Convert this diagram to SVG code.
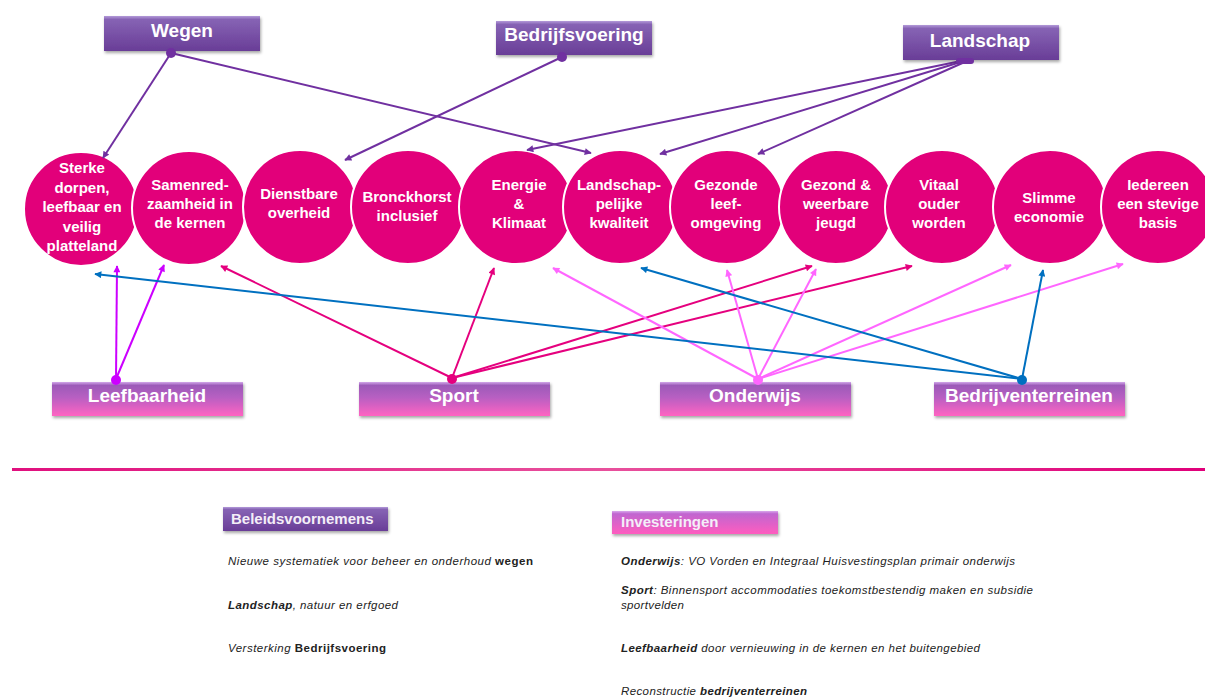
<svg xmlns="http://www.w3.org/2000/svg" width="1205" height="698" viewBox="0 0 1205 698">
<defs>
<linearGradient id="gTop" x1="0" y1="0" x2="0" y2="1">
<stop offset="0" stop-color="#b39ad9"/><stop offset="0.1" stop-color="#8663b4"/><stop offset="1" stop-color="#693d97"/>
</linearGradient>
<linearGradient id="gBot" x1="0" y1="0" x2="0" y2="1">
<stop offset="0" stop-color="#d2a8ea"/><stop offset="0.1" stop-color="#9c5ab8"/><stop offset="0.45" stop-color="#b75fc2"/><stop offset="1" stop-color="#ff64c2"/>
</linearGradient>
<linearGradient id="gInv" x1="0" y1="0" x2="0" y2="1">
<stop offset="0" stop-color="#d8a8ec"/><stop offset="0.12" stop-color="#c066d0"/><stop offset="1" stop-color="#ff5cbf"/>
</linearGradient>
<linearGradient id="gLine" x1="0" y1="0" x2="1" y2="0">
<stop offset="0" stop-color="#e0107e"/><stop offset="0.5" stop-color="#e8509c"/><stop offset="1" stop-color="#e0007a"/>
</linearGradient>
<filter id="sh" x="-10%" y="-20%" width="120%" height="160%">
<feDropShadow dx="1" dy="2" stdDeviation="1.5" flood-color="#000" flood-opacity="0.35"/>
</filter>
<marker id="aP" viewBox="0 0 10 10" refX="9" refY="5" markerWidth="9" markerHeight="7" markerUnits="userSpaceOnUse" orient="auto"><path d="M0,0 L10,5 L0,10 z" fill="#7030a0"/></marker>
<marker id="aL" viewBox="0 0 10 10" refX="9" refY="5" markerWidth="9" markerHeight="7" markerUnits="userSpaceOnUse" orient="auto"><path d="M0,0 L10,5 L0,10 z" fill="#cc00ff"/></marker>
<marker id="aS" viewBox="0 0 10 10" refX="9" refY="5" markerWidth="9" markerHeight="7" markerUnits="userSpaceOnUse" orient="auto"><path d="M0,0 L10,5 L0,10 z" fill="#e5007e"/></marker>
<marker id="aO" viewBox="0 0 10 10" refX="9" refY="5" markerWidth="9" markerHeight="7" markerUnits="userSpaceOnUse" orient="auto"><path d="M0,0 L10,5 L0,10 z" fill="#ff66ff"/></marker>
<marker id="aB" viewBox="0 0 10 10" refX="9" refY="5" markerWidth="9" markerHeight="7" markerUnits="userSpaceOnUse" orient="auto"><path d="M0,0 L10,5 L0,10 z" fill="#0070c0"/></marker>
</defs>
<style>
.c{fill:#e2007a;stroke:#fff;stroke-width:2}
.ct{font-family:"Liberation Sans",Arial,sans-serif;font-weight:bold;font-size:15px;fill:#fff;text-anchor:middle}
.bt{font-family:"Liberation Sans",Arial,sans-serif;font-weight:bold;font-size:19px;fill:#fff;text-anchor:middle}
.lt{font-family:"Liberation Sans",Arial,sans-serif;font-weight:bold;font-size:15px;fill:#f4eef8}
.tb{fill:url(#gTop);filter:url(#sh)}
.bb{fill:url(#gBot);filter:url(#sh)}
.tx{font-family:"Liberation Sans",Arial,sans-serif;font-style:italic;font-size:11.5px;fill:#222}
.k{font-weight:bold}
.p{fill:none;stroke:#7030a0;stroke-width:2;marker-end:url(#aP)}
.l{fill:none;stroke:#cc00ff;stroke-width:2;marker-end:url(#aL)}
.s{fill:none;stroke:#e5007e;stroke-width:2;marker-end:url(#aS)}
.o{fill:none;stroke:#ff66ff;stroke-width:2;marker-end:url(#aO)}
.b{fill:none;stroke:#0070c0;stroke-width:2;marker-end:url(#aB)}
</style>
<rect width="1205" height="698" fill="#fff"/>

<g id="circles">
<g id="n-sterke"><circle class="c" cx="81" cy="209" r="57"/><text class="ct" x="82"><tspan x="82" y="173">Sterke</tspan><tspan x="82" y="192.5">dorpen,</tspan><tspan x="82" y="212">leefbaar en</tspan><tspan x="82" y="231.5">veilig</tspan><tspan x="82" y="251">platteland</tspan></text></g>
<g id="n-samenred"><circle class="c" cx="189" cy="208" r="57"/><text class="ct"><tspan x="190" y="190">Samenred-</tspan><tspan x="190" y="209">zaamheid in</tspan><tspan x="190" y="228">de kernen</tspan></text></g>
<g id="n-dienstbare"><circle class="c" cx="300" cy="207" r="57"/><text class="ct"><tspan x="299" y="199">Dienstbare</tspan><tspan x="299" y="218">overheid</tspan></text></g>
<g id="n-bronckhorst"><circle class="c" cx="408" cy="207" r="57"/><text class="ct"><tspan x="407" y="202">Bronckhorst</tspan><tspan x="407" y="221">inclusief</tspan></text></g>
<g id="n-energie"><circle class="c" cx="516" cy="207" r="57"/><text class="ct"><tspan x="519" y="190">Energie</tspan><tspan x="519" y="209">&amp;</tspan><tspan x="519" y="228">Klimaat</tspan></text></g>
<g id="n-landschappelijk"><circle class="c" cx="620" cy="207" r="57"/><text class="ct"><tspan x="619" y="190">Landschap-</tspan><tspan x="619" y="209">pelijke</tspan><tspan x="619" y="228">kwaliteit</tspan></text></g>
<g id="n-gezonde"><circle class="c" cx="727" cy="207" r="57"/><text class="ct"><tspan x="726" y="190">Gezonde</tspan><tspan x="726" y="209">leef-</tspan><tspan x="726" y="228">omgeving</tspan></text></g>
<g id="n-jeugd"><circle class="c" cx="836" cy="207" r="57"/><text class="ct"><tspan x="836" y="190">Gezond &amp;</tspan><tspan x="836" y="209">weerbare</tspan><tspan x="836" y="228">jeugd</tspan></text></g>
<g id="n-vitaal"><circle class="c" cx="942" cy="207" r="57"/><text class="ct"><tspan x="939" y="190">Vitaal</tspan><tspan x="939" y="209">ouder</tspan><tspan x="939" y="228">worden</tspan></text></g>
<g id="n-slimme"><circle class="c" cx="1050" cy="207" r="57"/><text class="ct"><tspan x="1049" y="203">Slimme</tspan><tspan x="1049" y="222">economie</tspan></text></g>
<g id="n-iedereen"><circle class="c" cx="1158" cy="207" r="57"/><text class="ct"><tspan x="1158" y="190">Iedereen</tspan><tspan x="1158" y="209">een stevige</tspan><tspan x="1158" y="228">basis</tspan></text></g>
</g>

<g id="connectors">
<path class="p" d="M171,53 L103,158"/>
<path class="p" d="M171,53 L591,153"/>
<path class="p" d="M562,57 L345,160"/>
<path class="p" d="M961,61 L527,150"/>
<path class="p" d="M964,61 L660,154"/>
<path class="p" d="M967,61 L758,154"/>
<path class="l" d="M116,379 L117,266"/>
<path class="l" d="M116,379 L164,265"/>
<path class="s" d="M452,378 L221,266"/>
<path class="s" d="M452,378 L494,268"/>
<path class="s" d="M452,378 L812,266"/>
<path class="s" d="M452,378 L912,266"/>
<path class="o" d="M758,379 L553,268"/>
<path class="o" d="M758,379 L727,270"/>
<path class="o" d="M758,379 L816,269"/>
<path class="o" d="M758,379 L1011,265"/>
<path class="o" d="M758,379 L1123,264"/>
<path class="b" d="M1022,379 L95,274"/>
<path class="b" d="M1022,379 L641,268"/>
<path class="b" d="M1022,379 L1043,270"/>
</g>

<g id="n-wegen"><rect class="tb" x="104" y="16" width="156" height="35"/><text class="bt" x="182" y="37">Wegen</text><circle cx="171" cy="53" r="5" fill="#7030a0"/></g>
<g id="n-bedrijfsvoering"><rect class="tb" x="496" y="21" width="156" height="34"/><text class="bt" x="574" y="41">Bedrijfsvoering</text><circle cx="562" cy="57" r="5" fill="#7030a0"/></g>
<g id="n-landschap"><rect class="tb" x="903" y="25" width="156" height="35"/><text class="bt" x="980" y="47">Landschap</text><rect x="956" y="58" width="18" height="6" rx="3" fill="#7030a0"/></g>

<g id="n-leefbaarheid"><rect class="bb" x="52" y="382" width="191" height="34"/><text class="bt" x="147" y="402">Leefbaarheid</text><circle cx="116" cy="380" r="5" fill="#cc00ff"/></g>
<g id="n-sport"><rect class="bb" x="359" y="382" width="191" height="34"/><text class="bt" x="454" y="402">Sport</text><circle cx="452" cy="379" r="5" fill="#e5007e"/></g>
<g id="n-onderwijs"><rect class="bb" x="660" y="382" width="191" height="34"/><text class="bt" x="755" y="402">Onderwijs</text><circle cx="758" cy="380" r="5" fill="#ff66ff"/></g>
<g id="n-bedrijventerreinen"><rect class="bb" x="934" y="382" width="191" height="34"/><text class="bt" x="1029" y="402">Bedrijventerreinen</text><circle cx="1022" cy="380" r="5" fill="#0070c0"/></g>

<rect x="12" y="468" width="1193" height="3" fill="url(#gLine)"/>

<g id="legend-beleid">
<rect class="tb" x="223" y="507" width="165" height="24"/>
<text class="lt" x="231" y="524">Beleidsvoornemens</text>
<text class="tx" x="228" y="565" textLength="305" lengthAdjust="spacing">Nieuwe systematiek voor beheer en onderhoud <tspan class="k" font-style="normal">wegen</tspan></text>
<text class="tx" x="228" y="609" textLength="170" lengthAdjust="spacing"><tspan class="k">Landschap</tspan>, natuur en erfgoed</text>
<text class="tx" x="228" y="652" textLength="158" lengthAdjust="spacing">Versterking <tspan class="k" font-style="normal">Bedrijfsvoering</tspan></text>
</g>
<g id="legend-invest">
<rect x="612" y="511" width="166" height="23" fill="url(#gInv)" filter="url(#sh)"/>
<text class="lt" x="621" y="527">Investeringen</text>
<text class="tx" x="621" y="565" textLength="394" lengthAdjust="spacing"><tspan class="k">Onderwijs</tspan>: VO Vorden en Integraal Huisvestingsplan primair onderwijs</text>
<text class="tx" x="621" y="594" textLength="412" lengthAdjust="spacing"><tspan class="k">Sport</tspan>: Binnensport accommodaties toekomstbestendig maken en subsidie</text>
<text class="tx" x="621" y="609" textLength="63" lengthAdjust="spacing">sportvelden</text>
<text class="tx" x="621" y="652" textLength="359" lengthAdjust="spacing"><tspan class="k">Leefbaarheid</tspan> door vernieuwing in de kernen en het buitengebied</text>
<text class="tx" x="621" y="695" textLength="186" lengthAdjust="spacing">Reconstructie <tspan class="k">bedrijventerreinen</tspan></text>
</g>
</svg>
